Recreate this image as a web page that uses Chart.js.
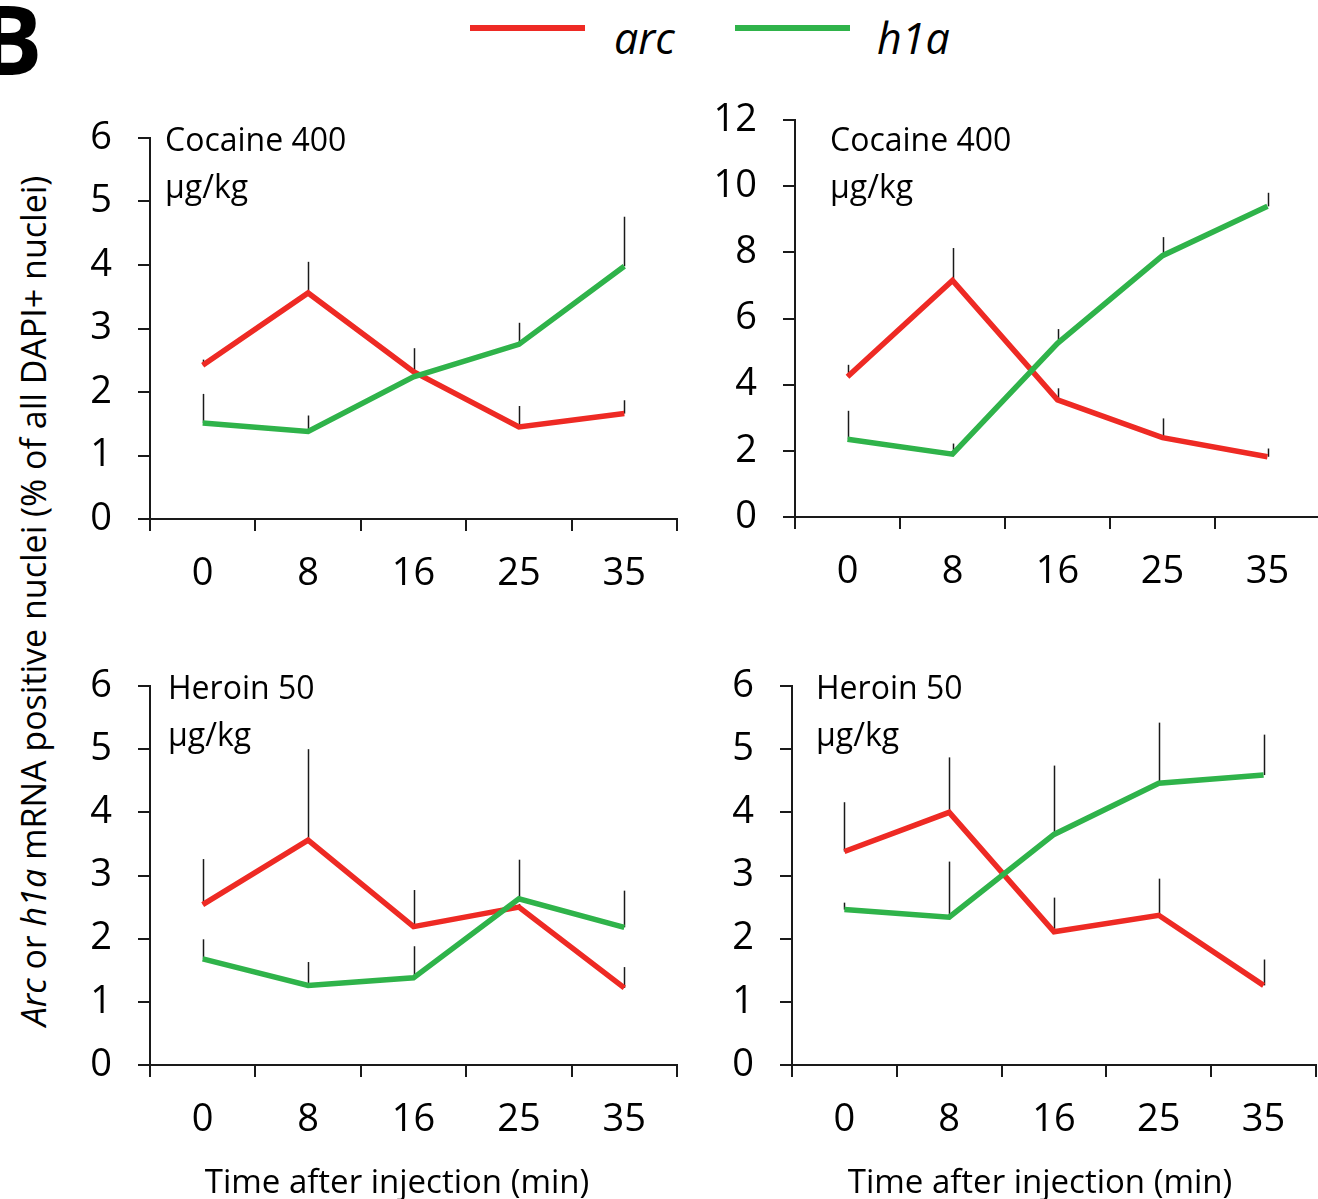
<!DOCTYPE html>
<html><head><meta charset="utf-8">
<script src="https://cdn.jsdelivr.net/npm/chart.js@4.4.0/dist/chart.umd.min.js"></script>
<style>
html,body{margin:0;padding:0;background:#fff;overflow:hidden;width:1318px;height:1199px;}
body{position:relative;font-family:'Open Sans',sans-serif;color:#000;}
.abs{position:absolute;white-space:nowrap;line-height:1;}
canvas{position:absolute;}
.ptitle{font-size:32px;line-height:47px;}
.xtitle{font-size:33px;transform:translate(-50%,-50%);}
</style></head><body>
<div class="abs" style="left:-22px;top:-10px;font-size:96px;font-weight:bold;">B</div>
<div class="abs" style="left:470px;top:25px;width:115px;height:6px;background:#ee2a24;"></div>
<div class="abs" style="left:614px;top:16px;font-size:43px;font-style:italic;">arc</div>
<div class="abs" style="left:735px;top:25px;width:115px;height:6px;background:#2fb34a;"></div>
<div class="abs" style="left:877px;top:16px;font-size:43px;font-style:italic;">h1a</div>
<div class="abs" style="left:33px;top:601px;font-size:34px;transform:translate(-50%,-50%) rotate(-90deg);"><i>Arc</i> or <i>h1a</i> mRNA positive nuclei (% of all DAPI+ nuclei)</div>

<canvas id="c1"></canvas><canvas id="c2"></canvas><canvas id="c3"></canvas><canvas id="c4"></canvas>

<div class="abs ptitle" style="left:165px;top:115px;">Cocaine 400<br>µg/kg</div>
<div class="abs ptitle" style="left:830px;top:115px;">Cocaine 400<br>µg/kg</div>
<div class="abs ptitle" style="left:168px;top:663px;">Heroin 50<br>µg/kg</div>
<div class="abs ptitle" style="left:816px;top:663px;">Heroin 50<br>µg/kg</div>
<div class="abs xtitle" style="left:397px;top:1180px;">Time after injection (min)</div>
<div class="abs xtitle" style="left:1040px;top:1180px;">Time after injection (min)</div>

<script>
// ---- data ----
const categories = ['0', '8', '16', '25', '35'];

// Cocaine 400 µg/kg (left, 0-6 scale)
const coc1Arc    = [2.42, 3.56, 2.32, 1.45, 1.66];
const coc1ArcSem = [0.09, 0.49, 0.37, 0.33, 0.21];
const coc1H1a    = [1.51, 1.38, 2.24, 2.75, 3.98];
const coc1H1aSem = [0.46, 0.25, 0.06, 0.34, 0.78];

// Cocaine 400 µg/kg (right, 0-12 scale)
const coc2Arc    = [4.24, 7.15, 3.54, 2.40, 1.82];
const coc2ArcSem = [0.36, 0.98, 0.35, 0.58, 0.25];
const coc2H1a    = [2.35, 1.90, 5.25, 7.90, 9.39];
const coc2H1aSem = [0.86, 0.32, 0.43, 0.56, 0.41];

// Heroin 50 µg/kg (left)
const her1Arc    = [2.54, 3.56, 2.19, 2.50, 1.22];
const her1ArcSem = [0.72, 1.44, 0.58, 0.05, 0.33];
const her1H1a    = [1.68, 1.26, 1.38, 2.63, 2.18];
const her1H1aSem = [0.31, 0.37, 0.50, 0.62, 0.58];

// Heroin 50 µg/kg (right)
const her2Arc    = [3.38, 4.00, 2.11, 2.37, 1.26];
const her2ArcSem = [0.78, 0.87, 0.54, 0.58, 0.41];
const her2H1a    = [2.46, 2.34, 3.65, 4.46, 4.59];
const her2H1aSem = [0.11, 0.88, 1.09, 0.96, 0.64];

const RED = '#ee2a24', GREEN = '#2fb34a', INK = '#1a1a1a';
const FONT = "'Open Sans', sans-serif";

const errPlugin = {
  id: 'errbars',
  beforeDatasetsDraw(chart) {
    const ctx = chart.ctx, ys = chart.scales.y;
    ctx.save();
    ctx.strokeStyle = INK; ctx.lineWidth = 1.5;
    chart.data.datasets.forEach((ds, di) => {
      const meta = chart.getDatasetMeta(di);
      meta.data.forEach((pt, i) => {
        const top = ys.getPixelForValue(ds.data[i] + ds.sem[i]);
        ctx.beginPath();
        ctx.moveTo(Math.round(pt.x) + 0.5, pt.y);
        ctx.lineTo(Math.round(pt.x) + 0.5, top);
        ctx.stroke();
      });
    });
    ctx.restore();
  }
};

function makeChart(id, box, yMax, yStep, arc, arcSem, h1a, h1aSem) {
  const c = document.getElementById(id);
  const PADL = 150, PADT = 50, PADR = 10, XH = 100;
  c.width = box.right - box.left + PADL + PADR;
  c.height = box.bottom - box.top + PADT + XH;
  c.style.left = (box.left - PADL) + 'px';
  c.style.top = (box.top - PADT) + 'px';
  new Chart(c, {
    type: 'line',
    data: {
      labels: categories,
      datasets: [
        {label: 'h1a', data: h1a, sem: h1aSem, borderColor: GREEN, borderWidth: 5.5, pointRadius: 0, tension: 0, fill: false},
        {label: 'arc', data: arc, sem: arcSem, borderColor: RED, borderWidth: 5.5, pointRadius: 0, tension: 0, fill: false}
      ]
    },
    options: {
      responsive: false, animation: false, devicePixelRatio: 1,
      layout: {padding: {left: 0, top: PADT, right: PADR, bottom: 0}},
      plugins: {legend: {display: false}, tooltip: {enabled: false}},
      scales: {
        x: {
          type: 'category', offset: true,
          grid: {offset: true, drawOnChartArea: false, drawTicks: true, tickLength: 12, color: INK, lineWidth: 2},
          border: {display: true, color: INK, width: 2},
          ticks: {font: {family: FONT, size: 38}, color: '#000', padding: 20, maxRotation: 0, autoSkip: false},
          afterFit(s) { s.height = XH; }
        },
        y: {
          min: 0, max: yMax,
          grid: {drawOnChartArea: false, drawTicks: true, tickLength: 12, color: INK, lineWidth: 2},
          border: {display: true, color: INK, width: 2},
          ticks: {stepSize: yStep, font: {family: FONT, size: 38}, color: '#000', padding: 26},
          afterFit(s) { s.width = PADL; }
        }
      }
    },
    plugins: [errPlugin]
  });
}

makeChart('c1', {left: 150, right: 677, top: 138, bottom: 519}, 6, 1, coc1Arc, coc1ArcSem, coc1H1a, coc1H1aSem);
makeChart('c2', {left: 795, right: 1320, top: 120, bottom: 517}, 12, 2, coc2Arc, coc2ArcSem, coc2H1a, coc2H1aSem);
makeChart('c3', {left: 150, right: 677, top: 686, bottom: 1065}, 6, 1, her1Arc, her1ArcSem, her1H1a, her1H1aSem);
makeChart('c4', {left: 792, right: 1316, top: 686, bottom: 1065}, 6, 1, her2Arc, her2ArcSem, her2H1a, her2H1aSem);
</script>
</body></html>
